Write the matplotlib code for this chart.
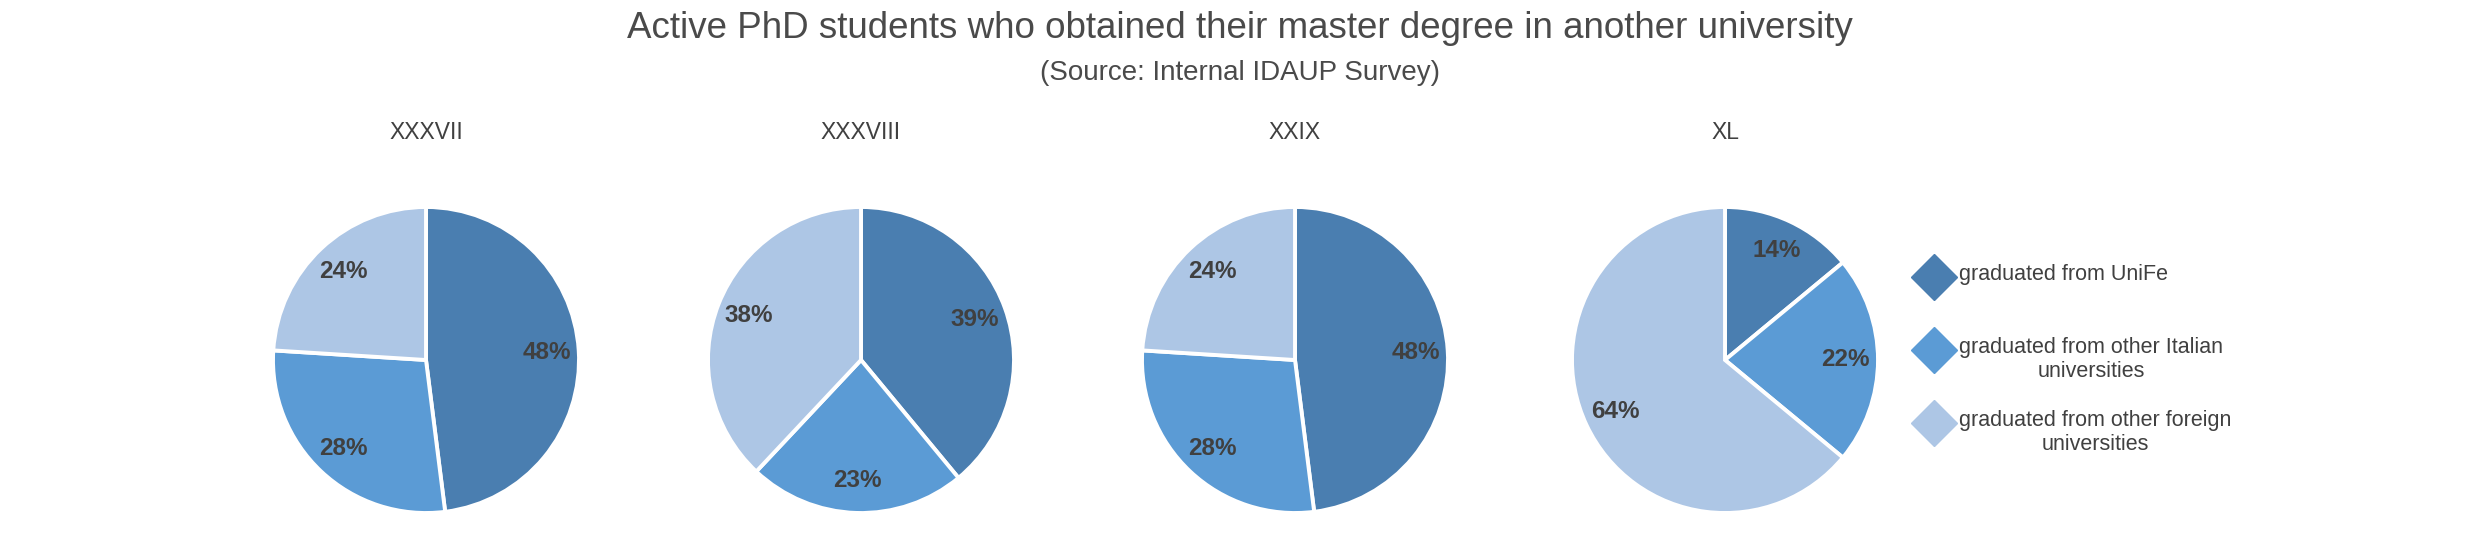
import matplotlib
matplotlib.use("Agg")
import matplotlib.pyplot as plt
from matplotlib.lines import Line2D

# ---- data ----
cohorts = ["XXXVII", "XXXVIII", "XXIX", "XL"]
categories = ["graduated from UniFe",
              "graduated from other Italian\nuniversities",
              "graduated from other foreign\nuniversities"]
unife = [48, 39, 48, 14]
other_italian = [28, 23, 28, 22]
other_foreign = [24, 38, 24, 64]
colors = ["#4A7EB0", "#5B9BD5", "#ADC6E5"]

plt.rcParams['font.family'] = ['Liberation Sans', 'DejaVu Sans']
TXT = "#404040"

W, H = 2480, 533
fig = plt.figure(figsize=(W / 100, H / 100), dpi=100)

fig.text(0.5, 1 - 29 / H, "Active PhD students who obtained their master degree in another university",
         ha='center', va='center', fontsize=26.5, color="#4A4A4A")
fig.text(0.5, 1 - 73 / H, "(Source: Internal IDAUP Survey)",
         ha='center', va='center', fontsize=20, color="#4A4A4A")

centers_x = [426, 861, 1295, 1725]
cy = 360
r = 153

for i, name in enumerate(cohorts):
    vals = [unife[i], other_italian[i], other_foreign[i]]
    cx = centers_x[i]
    ax = fig.add_axes([(cx - r) / W, (H - cy - r) / H, 2 * r / W, 2 * r / H])
    wedges, texts, autotexts = ax.pie(
        vals, colors=colors, startangle=90, counterclock=False,
        autopct=lambda p: f"{p:.0f}%", pctdistance=0.79,
        wedgeprops=dict(edgecolor='white', linewidth=2.8),
        textprops=dict(fontsize=17.5, fontweight='bold', color=TXT))
    ax.set_xlim(-1.0, 1.0)
    ax.set_ylim(-1.0, 1.0)
    ax.set_aspect('equal')
    ax.axis('off')
    fig.text(cx / W, 1 - 133 / H, name, ha='center', va='center',
             fontsize=16.5, color=TXT)

# legend (manual)
leg_x = 1934
text_x = 1959
leg_ys = [277, 350, 423]
for y, lab, c in zip(leg_ys, categories, colors):
    fig.add_artist(Line2D([leg_x / W], [1 - y / H], marker='D', markersize=23,
                          color=c, linestyle='None', transform=fig.transFigure))
    fig.text(text_x / W, 1 - (y - 13) / H, lab, ha='left', va='top',
             multialignment='center', fontsize=15.5, color=TXT, linespacing=1.2)

fig.savefig("out.png", dpi=100)
